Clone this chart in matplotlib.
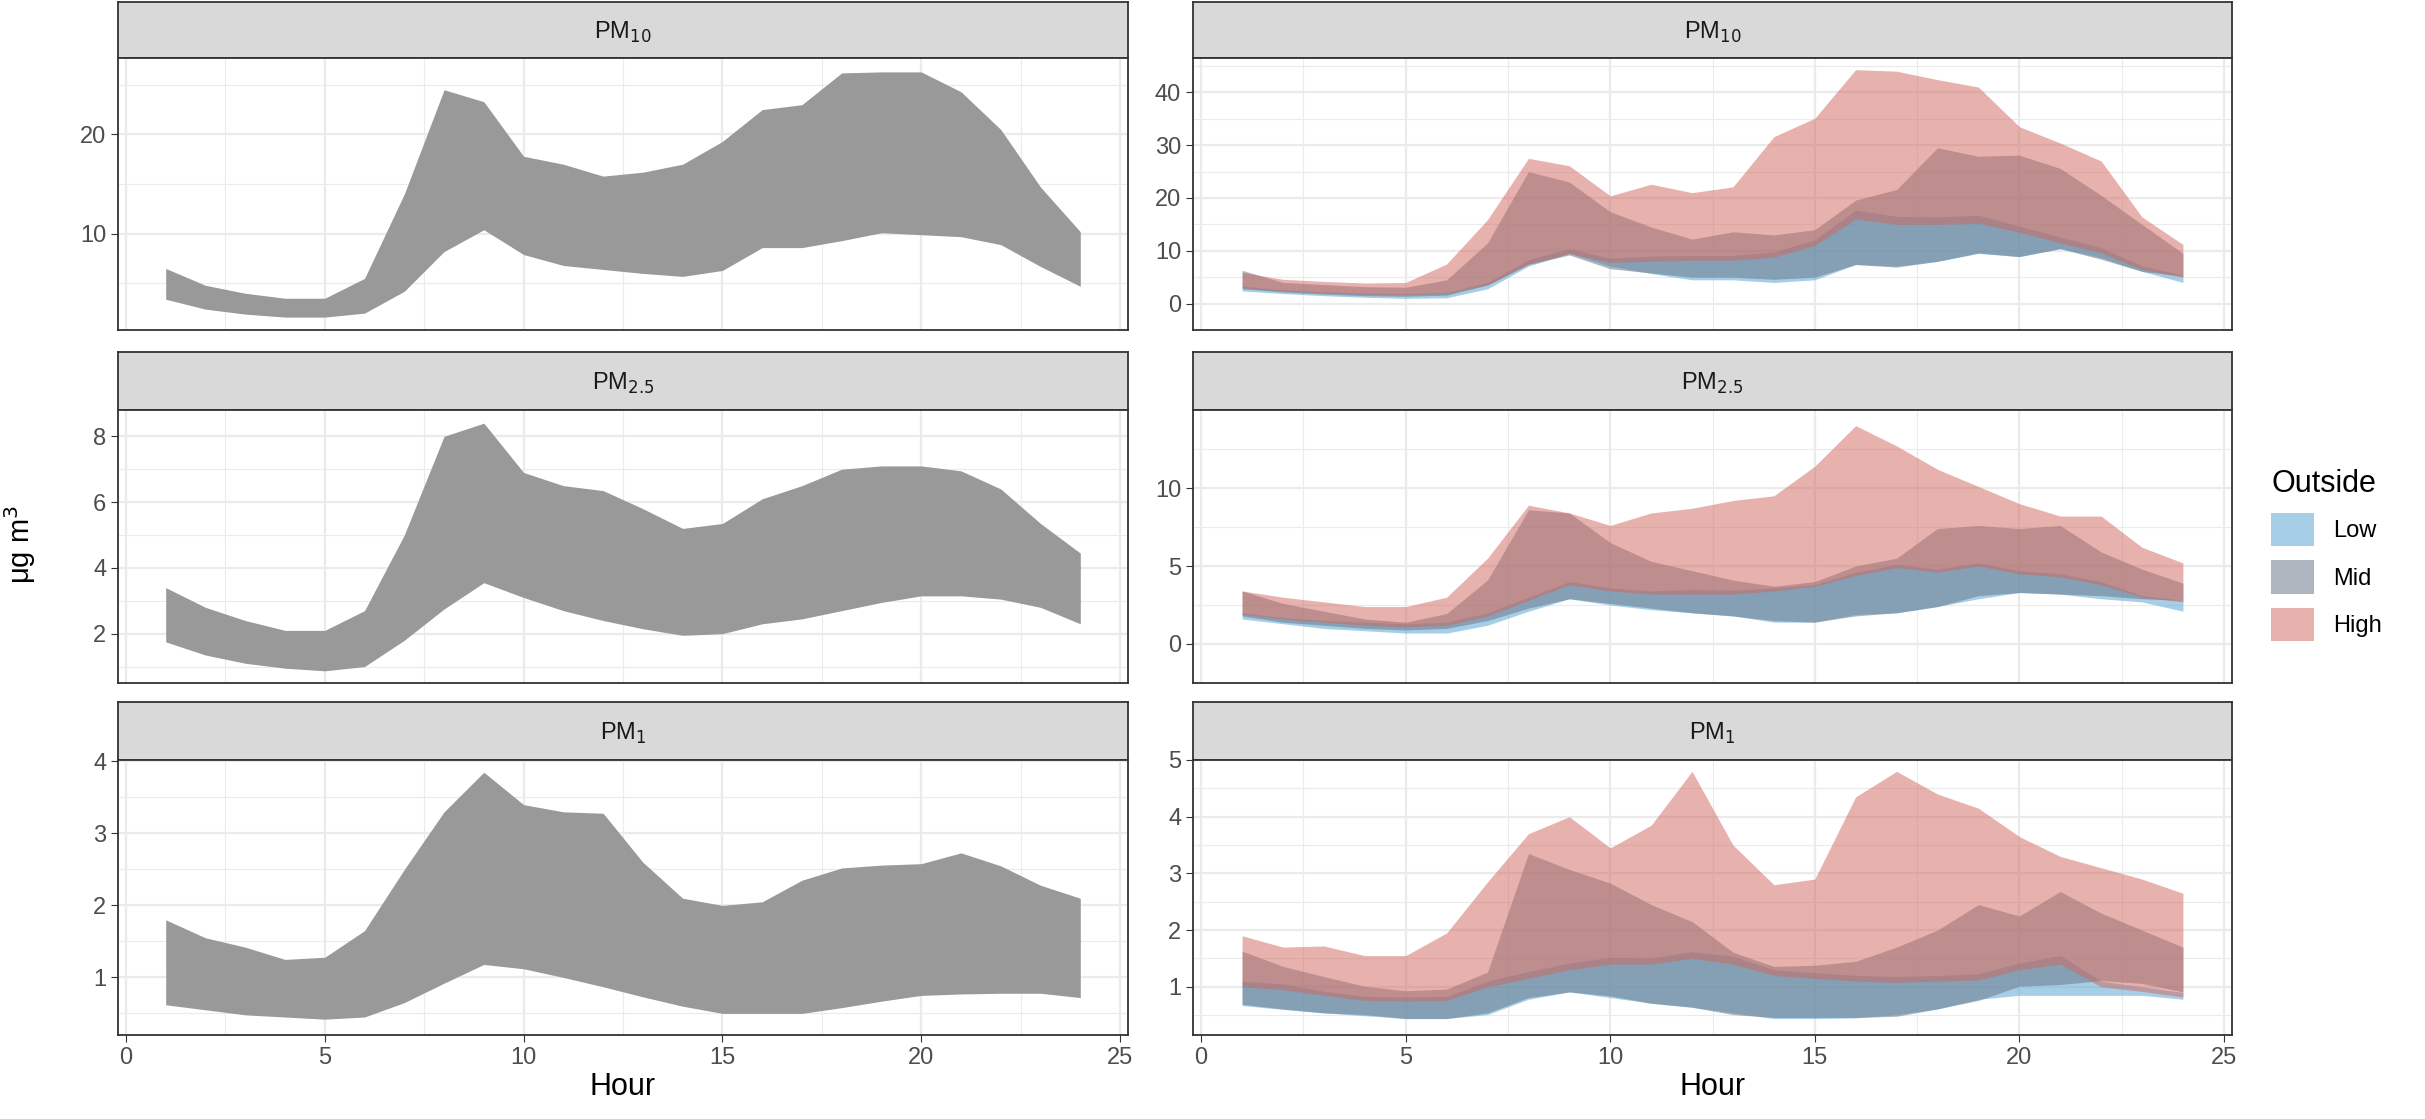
import matplotlib
matplotlib.use("Agg")
import matplotlib.pyplot as plt
import numpy as np

hours = list(range(1, 25))
strip_labels = ["PM$_{10}$", "PM$_{2.5}$", "PM$_1$"]
groups = ["Low", "Mid", "High"]
group_colors = {"Low": "#6baed6", "Mid": "#6b7a8c", "High": "#d0665c"}
group_alpha = {"Low": 0.6, "Mid": 0.55, "High": 0.5}

# Left column: overall ribbons
all_pm10_hi = [6.5,4.8,4.0,3.5,3.5,5.5,14,24.5,23.3,17.8,17,15.8,16.2,17,19.3,22.5,23,26.2,26.3,26.3,24.3,20.5,14.7,10.2]
all_pm10_lo = [3.4,2.4,1.9,1.6,1.6,2,4.2,8.2,10.4,7.9,6.8,6.4,6,5.7,6.3,8.6,8.6,9.3,10.1,9.9,9.7,8.9,6.7,4.7]
all_pm25_hi = [3.4,2.8,2.4,2.1,2.1,2.7,5,8,8.4,6.9,6.5,6.35,5.8,5.2,5.35,6.1,6.5,7,7.1,7.1,6.95,6.4,5.35,4.45]
all_pm25_lo = [1.75,1.35,1.1,0.95,0.87,1.0,1.8,2.75,3.55,3.1,2.7,2.4,2.15,1.95,2.0,2.3,2.45,2.7,2.95,3.15,3.15,3.05,2.8,2.3]
all_pm1_hi = [1.8,1.55,1.42,1.25,1.28,1.65,2.5,3.3,3.85,3.4,3.3,3.28,2.6,2.1,2.0,2.05,2.35,2.52,2.56,2.58,2.73,2.55,2.28,2.1]
all_pm1_lo = [0.62,0.55,0.48,0.45,0.42,0.45,0.65,0.92,1.18,1.12,1.0,0.87,0.73,0.6,0.5,0.5,0.5,0.58,0.67,0.75,0.77,0.78,0.78,0.72]

# Right column: by outside level
pm10_low_hi = [3.3,2.6,2.2,2.0,1.9,2.1,4.0,8.3,10.4,8.6,9.0,9.1,9.1,9.8,12.1,17.7,16.5,16.4,16.7,14.7,12.6,10.6,7.1,5.4]
pm10_low_lo = [2.4,1.9,1.5,1.2,1.0,1.1,2.8,7.1,9.5,7.1,5.7,4.5,4.5,4.0,4.5,7.4,7.1,8.0,9.5,8.9,10.4,8.7,6.1,4.0]
pm10_mid_hi = [6.3,4.0,3.6,3.2,3.1,4.5,11.5,25.0,23.0,17.4,14.5,12.2,13.6,13.0,14.0,19.6,21.6,29.5,27.9,28.1,25.6,20.5,15.0,9.5]
pm10_mid_lo = [2.8,2.2,1.8,1.5,1.4,1.6,3.5,7.4,9.2,6.6,5.8,5.0,5.0,4.6,5.0,7.4,6.9,8.0,9.6,8.9,10.4,8.4,6.1,5.2]
pm10_high_hi = [5.9,4.6,4.2,3.9,4.0,7.5,15.9,27.5,26.1,20.4,22.6,21.0,22.1,31.6,35.1,44.3,44.0,42.4,41.0,33.5,30.4,27.0,16.4,11.2]
pm10_high_lo = [3.0,2.4,2.0,1.8,1.7,1.9,3.6,7.5,9.5,7.8,8.0,8.2,8.2,8.8,11.0,16.0,15.0,15.0,15.2,13.5,11.5,9.6,6.5,5.0]

pm25_low_hi = [2.0,1.7,1.5,1.4,1.3,1.4,2.0,3.0,4.0,3.6,3.4,3.5,3.45,3.6,3.8,4.6,5.1,4.8,5.2,4.7,4.5,4.0,3.1,2.8]
pm25_low_lo = [1.6,1.3,1.0,0.85,0.7,0.7,1.2,2.1,2.9,2.5,2.2,2.0,1.8,1.4,1.4,1.9,2.0,2.4,2.9,3.3,3.2,2.9,2.7,2.1]
pm25_mid_hi = [3.4,2.6,2.1,1.6,1.4,1.95,4.1,8.6,8.4,6.5,5.3,4.7,4.1,3.7,4.0,5.0,5.5,7.4,7.6,7.4,7.6,5.9,4.8,3.9]
pm25_mid_lo = [1.8,1.4,1.2,1.0,0.9,1.0,1.5,2.3,2.9,2.6,2.3,2.0,1.8,1.5,1.4,1.8,2.0,2.4,3.1,3.3,3.2,3.1,2.9,2.8]
pm25_high_hi = [3.4,3.0,2.7,2.4,2.4,3.0,5.5,8.9,8.4,7.6,8.4,8.7,9.2,9.5,11.4,14.0,12.7,11.2,10.1,9.0,8.2,8.2,6.2,5.2]
pm25_high_lo = [1.9,1.6,1.4,1.2,1.1,1.2,1.8,2.8,3.8,3.4,3.2,3.2,3.2,3.4,3.7,4.4,4.9,4.6,5.0,4.5,4.3,3.8,3.0,2.7]

pm1_low_hi = [1.1,1.05,0.92,0.83,0.82,0.83,1.1,1.27,1.42,1.52,1.51,1.62,1.54,1.3,1.25,1.2,1.18,1.2,1.23,1.42,1.55,1.1,1.0,0.9]
pm1_low_lo = [0.67,0.6,0.54,0.49,0.44,0.44,0.51,0.78,0.91,0.81,0.71,0.64,0.54,0.44,0.44,0.45,0.51,0.61,0.78,0.85,0.85,0.85,0.85,0.78]
pm1_mid_hi = [1.63,1.36,1.18,1.01,0.93,0.96,1.26,3.35,3.07,2.83,2.45,2.15,1.61,1.36,1.38,1.45,1.7,2.0,2.45,2.25,2.68,2.3,2.0,1.7]
pm1_mid_lo = [0.69,0.61,0.54,0.51,0.44,0.44,0.54,0.81,0.91,0.84,0.71,0.64,0.51,0.46,0.46,0.46,0.48,0.61,0.76,1.01,1.04,1.11,1.06,0.91]
pm1_high_hi = [1.9,1.7,1.72,1.55,1.55,1.95,2.85,3.7,4.0,3.45,3.85,4.8,3.5,2.8,2.9,4.35,4.8,4.4,4.15,3.65,3.3,3.1,2.9,2.65]
pm1_high_lo = [1.0,0.95,0.85,0.76,0.75,0.76,1.0,1.15,1.3,1.4,1.4,1.5,1.4,1.2,1.15,1.1,1.08,1.1,1.12,1.3,1.4,1.0,0.92,0.82]

left_data = [(all_pm10_lo, all_pm10_hi), (all_pm25_lo, all_pm25_hi), (all_pm1_lo, all_pm1_hi)]
right_data = [
    {"Low": (pm10_low_lo, pm10_low_hi), "Mid": (pm10_mid_lo, pm10_mid_hi), "High": (pm10_high_lo, pm10_high_hi)},
    {"Low": (pm25_low_lo, pm25_low_hi), "Mid": (pm25_mid_lo, pm25_mid_hi), "High": (pm25_high_lo, pm25_high_hi)},
    {"Low": (pm1_low_lo, pm1_low_hi), "Mid": (pm1_mid_lo, pm1_mid_hi), "High": (pm1_high_lo, pm1_high_hi)},
]
left_ylim = [(0.3, 27.7), (0.5, 8.8), (0.2, 4.02)]
left_yticks = [[10, 20], [2, 4, 6, 8], [1, 2, 3, 4]]
right_ylim = [(-1.0, 46.5), (0, 15.0), (0.15, 5.0)]
right_yticks = [[0, 10, 20, 30, 40], [0, 5, 10], [1, 2, 3, 4, 5]]

W, H = 2425, 1119
fig = plt.figure(figsize=(W / 100, H / 100), dpi=100)
plt.rcParams['font.family'] = ['Liberation Sans', 'DejaVu Sans']

cols = [(118, 1128), (1193, 2232)]
rows = [(2, 58, 330), (352, 410, 683), (702, 760, 1035)]

def style(ax, ylim, yticks, last):
    ax.set_xlim(-0.2, 25.2)
    ax.set_ylim(*ylim)
    ax.set_xticks([0, 5, 10, 15, 20, 25])
    ax.set_xticks([2.5, 7.5, 12.5, 17.5, 22.5], minor=True)
    ax.set_yticks(yticks)
    yt = np.array(yticks, dtype=float)
    step = yt[1] - yt[0]
    ax.set_yticks(np.arange(yt[0] - step / 2, ylim[1], step), minor=True)
    ax.grid(True, which='major', color='#ebebeb', lw=1.6)
    ax.grid(True, which='minor', color='#ebebeb', lw=0.8)
    ax.set_axisbelow(True)
    for s in ax.spines.values():
        s.set_color('#333333'); s.set_linewidth(1.3)
    ax.tick_params(which='minor', length=0)
    ax.tick_params(axis='y', labelsize=17, colors='#333333', length=5, labelcolor='#4d4d4d')
    ax.tick_params(axis='x', labelsize=17, length=5 if last else 0, colors='#333333', labelcolor='#4d4d4d', labelbottom=last)
    if last:
        ax.set_xlabel("Hour", fontsize=22, labelpad=2)

for c, (x0, x1) in enumerate(cols):
    for r, (st, pt, pb) in enumerate(rows):
        sax = fig.add_axes([x0 / W, 1 - pt / H, (x1 - x0) / W, (pt - st) / H])
        sax.set_facecolor('#d9d9d9')
        sax.set_xticks([]); sax.set_yticks([])
        for s in sax.spines.values():
            s.set_color('#333333'); s.set_linewidth(1.3)
        sax.text(0.5, 0.45, strip_labels[r], ha='center', va='center', fontsize=17, color='#1a1a1a', transform=sax.transAxes)
        ax = fig.add_axes([x0 / W, 1 - pb / H, (x1 - x0) / W, (pb - pt) / H])
        if c == 0:
            lo, hi = left_data[r]
            ax.fill_between(hours, lo, hi, color='#999999', lw=0)
            style(ax, left_ylim[r], left_yticks[r], r == 2)
        else:
            for g in groups:
                lo, hi = right_data[r][g]
                ax.fill_between(hours, lo, hi, color=group_colors[g], alpha=group_alpha[g], lw=0, label=g)
            style(ax, right_ylim[r], right_yticks[r], r == 2)
            if r == 1:
                h, l = ax.get_legend_handles_labels()
                fig.legend(h, l, title="Outside", loc='center left', bbox_to_anchor=(2250 / W, 1 - 555 / H),
                           frameon=False, fontsize=17, title_fontsize=22, handlelength=1.8, handleheight=1.8,
                           labelspacing=0.6, alignment='left')

fig.text(20 / W, 1 - 545 / H, "μg m$^3$", rotation=90, fontsize=21, ha='center', va='center')
fig.savefig("out.png", dpi=100)
